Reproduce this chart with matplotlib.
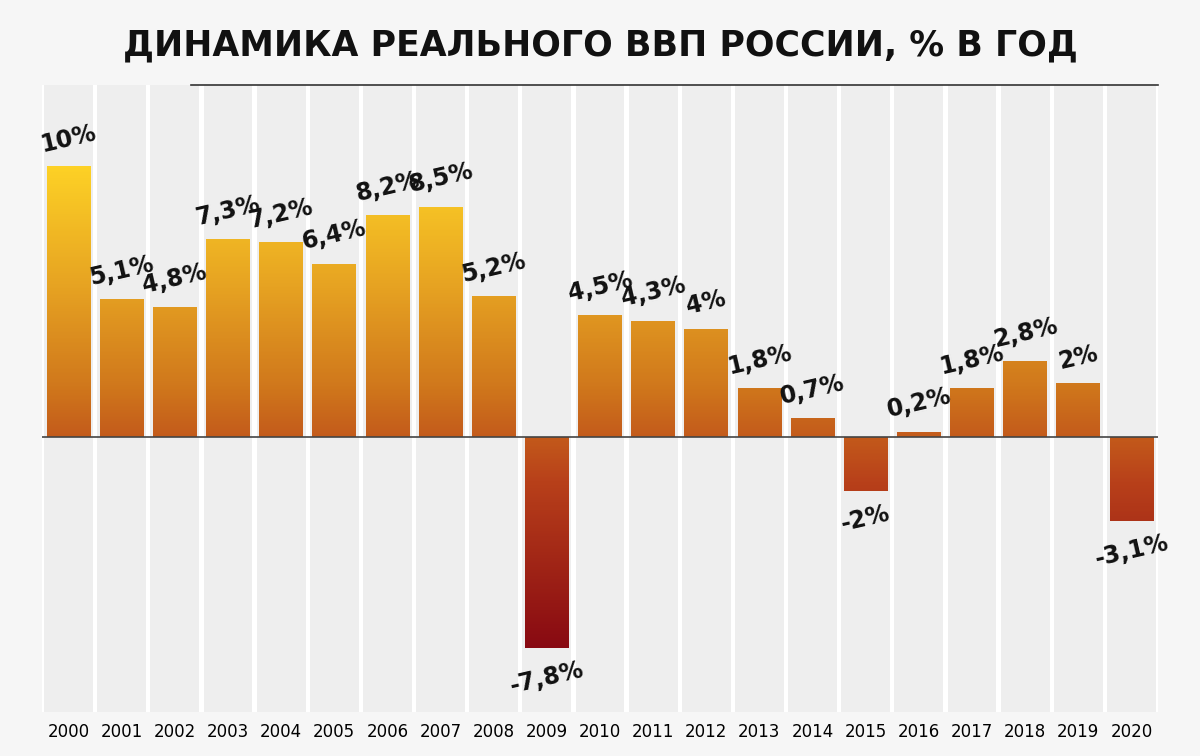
import numpy as np
import matplotlib.pyplot as plt
from matplotlib.colors import LinearSegmentedColormap

years = [str(y) for y in range(2000, 2021)]
growth = [10, 5.1, 4.8, 7.3, 7.2, 6.4, 8.2, 8.5, 5.2, -7.8, 4.5, 4.3, 4,
          1.8, 0.7, -2, 0.2, 1.8, 2.8, 2, -3.1]
labels = ["10%", "5,1%", "4,8%", "7,3%", "7,2%", "6,4%", "8,2%", "8,5%", "5,2%",
          "-7,8%", "4,5%", "4,3%", "4%", "1,8%", "0,7%", "-2%", "0,2%", "1,8%",
          "2,8%", "2%", "-3,1%"]

cmap = LinearSegmentedColormap.from_list(
    "gdp", [(0.0, "#870812"), (0.35, "#b8401a"), (0.55, "#d0781c"),
            (0.75, "#e6a222"), (1.0, "#fdd126")])
vmin, vmax = -8.0, 10.0

fig = plt.figure(figsize=(12, 7.56), dpi=100, facecolor="#f6f6f6")
ax = fig.add_axes([0.035, 0.058, 0.93, 0.8296])
ax.set_facecolor("white")
ymin, ymax = -10.15, 13.0
x = np.arange(len(years))
ax.set_xlim(-0.5, len(years) - 0.5)
ax.set_ylim(ymin, ymax)

# column bands
for xi in x:
    ax.axvspan(xi - 0.46, xi + 0.46, color="#eeeeee", zorder=0, lw=0)

grad = np.linspace(vmin, vmax, 400).reshape(-1, 1)
bw = 0.82
for xi, v in zip(x, growth):
    bars = ax.bar(xi, v, width=bw, color="none", zorder=2)
    rect = bars.patches[0]
    im = ax.imshow(grad, cmap=cmap, vmin=vmin, vmax=vmax, origin="lower",
                   extent=[xi - bw / 2, xi + bw / 2, vmin, vmax],
                   aspect="auto", zorder=2)
    im.set_clip_path(rect)

for xi, v, lab in zip(x, growth, labels):
    y = v + 0.35 if v >= 0 else v - 0.35
    ax.text(xi, y, lab, ha="center", va="bottom" if v >= 0 else "top",
            rotation=13, rotation_mode="anchor" if False else "default",
            fontsize=17, fontweight="bold", family="Liberation Sans Narrow",
            color="#111111", zorder=4)

ax.axhline(0, color="#444444", lw=1.2, zorder=3)
ax.set_xticks(x, years)
ax.tick_params(axis="x", length=0, labelsize=12, pad=8)
ax.set_yticks([])
for s in ["left", "right", "bottom"]:
    ax.spines[s].set_visible(False)
ax.spines["top"].set_color("#333333")
ax.spines["top"].set_linewidth(1.2)
ax.spines["top"].set_bounds(2.3, 20.5)

fig.text(0.5, 0.94, "ДИНАМИКА РЕАЛЬНОГО ВВП РОССИИ, % В ГОД", ha="center",
         va="center", fontsize=25, fontweight="bold", color="#111111")

fig.savefig("out.png", dpi=100, facecolor=fig.get_facecolor())
